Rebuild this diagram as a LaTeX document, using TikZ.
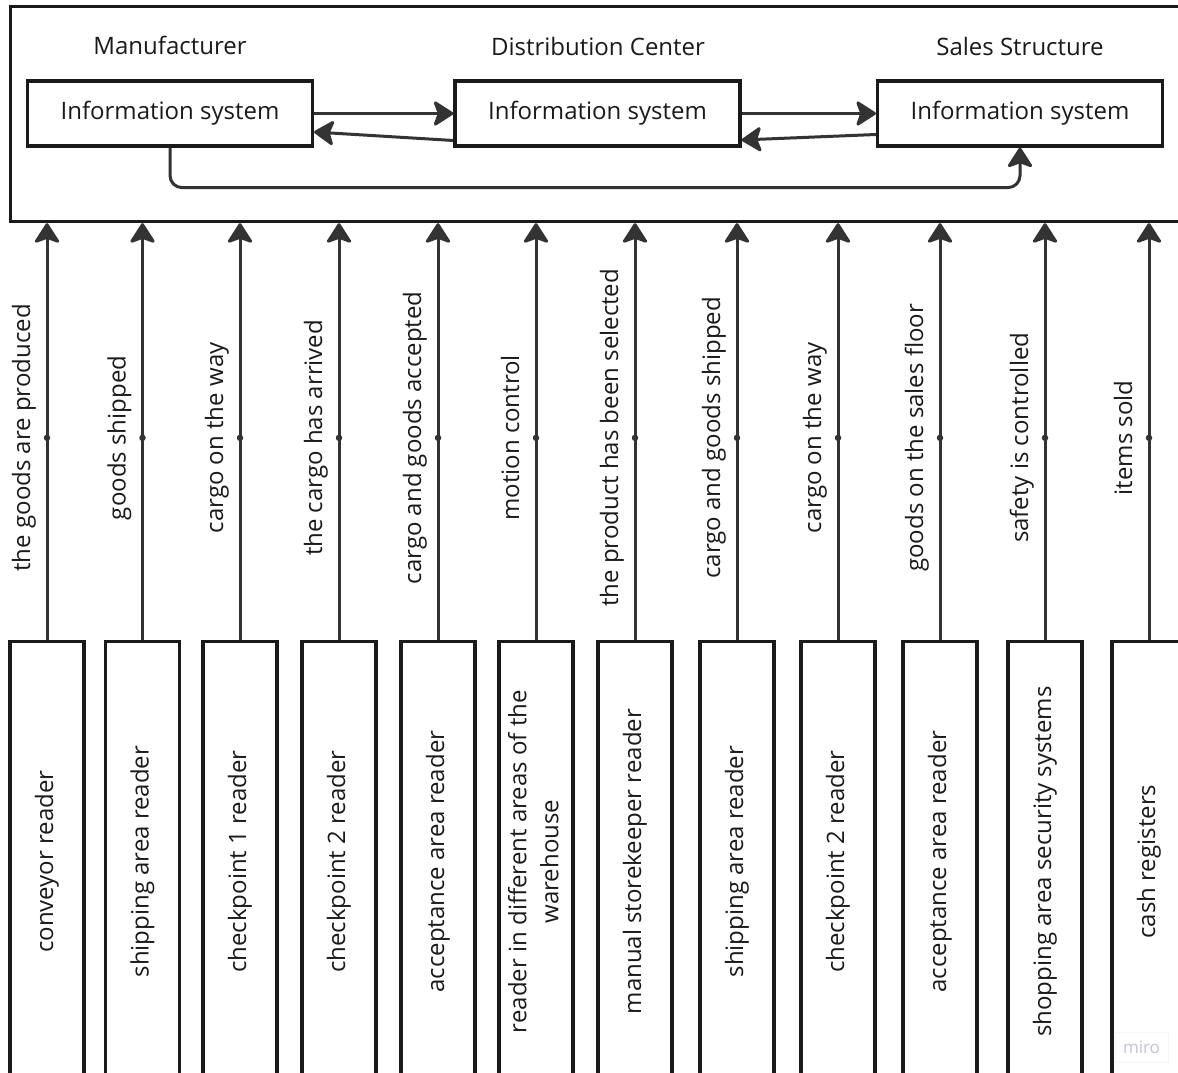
\documentclass[tikz,border=0pt]{standalone}
\usepackage{fontspec}
\setmainfont{Open Sans}
\usetikzlibrary{arrows.meta,calc}
\definecolor{ink}{HTML}{1A1A1A}
\definecolor{lin}{HTML}{333333}
\definecolor{wm}{HTML}{C4C4D8}
\newcommand{\vt}[1]{\rotatebox{90}{#1}}
\begin{document}
\begin{tikzpicture}[x=1pt,y=-1pt,
  every node/.style={font=\fontsize{24}{29}\selectfont, text=ink},
  isbox/.style={draw=ink,line width=3.2pt,minimum width=285pt,minimum height=65pt,inner sep=0pt},
  rdbox/.style={draw=ink,line width=3.2pt,minimum width=74pt,minimum height=440pt,inner sep=0pt,anchor=north},
  arr/.style={draw=lin,line width=3pt,-{Stealth[length=22pt,width=28pt,inset=5pt,round]}},
  lbl/.style={inner sep=0pt,xshift=-17pt,rotate=90,anchor=base},
  dotm/.style={circle,fill=lin,inner sep=0pt,minimum size=6.5pt}]
\useasboundingbox (0,0) rectangle (1178,1073);
\fill[white] (0,0) rectangle (1178,1073);
% frame
\node[draw=ink,line width=3.2pt,minimum width=1200pt,minimum height=215pt,anchor=north west,inner sep=0pt] (frame) at (9,5) {};
% titles
\node (t1) at (170,45) {Manufacturer};
\node (t2) at (598,47) {Distribution Center};
\node (t3) at (1020,47) {Sales Structure};
% information systems
\node[isbox] (is1) at (170,113.5) {Information system};
\node[isbox] (is2) at (597.5,113.5) {Information system};
\node[isbox] (is3) at (1020,113.5) {Information system};
\draw[arr] (is1.east) -- (is2.west);
\draw[arr] ($(is2.west)+(0,27)$) -- ($(is1.east)+(0,18.5)$);
\draw[arr] (is2.east) -- (is3.west);
\draw[arr] ($(is3.west)+(0,21)$) -- ($(is2.east)+(0,26.5)$);
\draw[arr,rounded corners=12pt] (is1.south) -- ++(0,40) -| (is3.south);
% reader boxes
\node[rdbox] (b1) at (47,640) {\vt{conveyor reader}};
\node[rdbox] (b2) at (142.5,640) {\vt{shipping area reader}};
\node[rdbox] (b3) at (240,640) {\vt{checkpoint 1 reader}};
\node[rdbox] (b4) at (339,640) {\vt{checkpoint 2 reader}};
\node[rdbox] (b5) at (438,640) {\vt{acceptance area reader}};
\node[rdbox] (b6) at (536,640) {\vt{\fontsize{24}{32}\selectfont\begin{tabular}{@{}c@{}}reader in different areas of the\\warehouse\end{tabular}}};
\node[rdbox] (b7) at (635,640) {\vt{manual storekeeper reader}};
\node[rdbox] (b8) at (737,640) {\vt{shipping area reader}};
\node[rdbox] (b9) at (838,640) {\vt{checkpoint 2 reader}};
\node[rdbox] (b10) at (940,640) {\vt{acceptance area reader}};
\node[rdbox] (b11) at (1045,640) {\vt{shopping area security systems}};
\node[rdbox] (b12) at (1149,640) {\vt{cash registers}};
% event arrows
\foreach \b/\t in {b1/the goods are produced, b2/goods shipped, b3/cargo on the way,
  b4/the cargo has arrived, b5/cargo and goods accepted, b6/motion control,
  b7/the product has been selected, b8/cargo and goods shipped, b9/cargo on the way,
  b10/goods on the sales floor, b11/safety is controlled, b12/items sold}{
  \draw[arr] (\b.north) -- node[pos=0.485,dotm]{} node[pos=0.485,lbl]{\t} (\b.north |- frame.south);
}
% watermark
\node[font=\fontsize{17}{20}\selectfont,text=wm,fill=white,draw=gray!6,line width=0.8pt,minimum width=53pt,minimum height=30pt,inner sep=0pt] (miro) at (1141.5,1047) {miro};
\end{tikzpicture}
\end{document}
